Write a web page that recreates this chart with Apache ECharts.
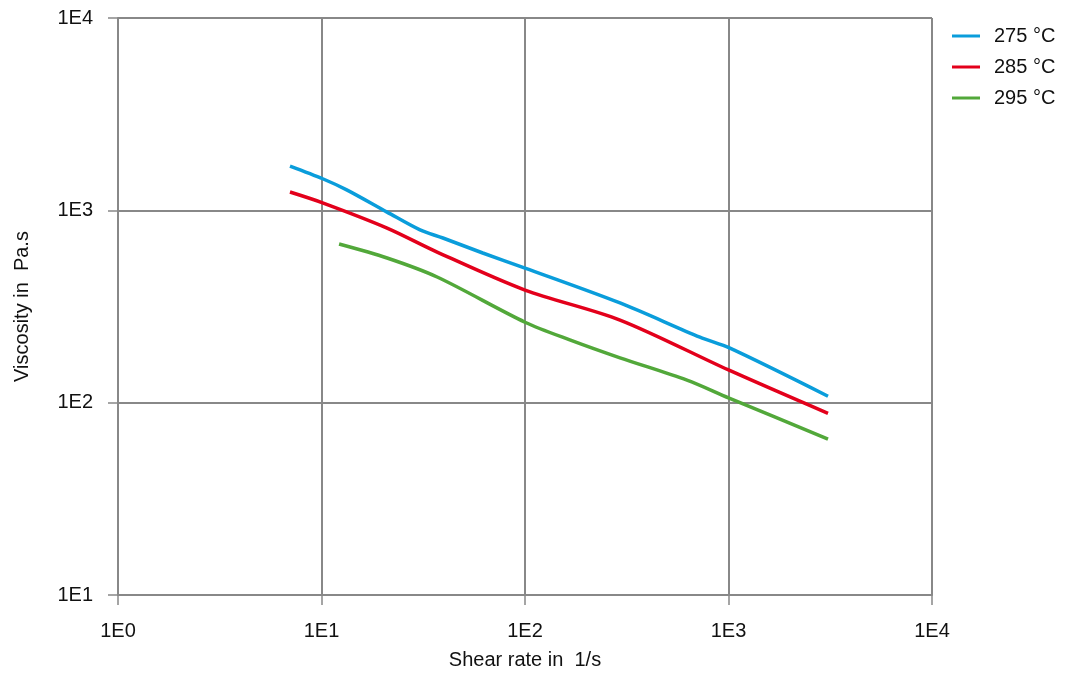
<!DOCTYPE html>
<html><head><meta charset="utf-8">
<script src="https://cdn.jsdelivr.net/npm/echarts@6/dist/echarts.min.js"></script>
<style>html,body{margin:0;padding:0;background:#fff}#c{width:1072px;height:675px}</style>
</head><body><div id="c"></div>
<script>
const seriesNames = ['275 °C', '285 °C', '295 °C'];
const shear275 = [7.0, 10.2, 13.3, 21, 30.5, 39.5, 62, 100, 293, 724, 1017, 3083];
const visc275  = [1698, 1455, 1277, 979, 791, 718, 600, 501, 330, 219, 192, 108];
const shear285 = [7.0, 10.2, 21, 37, 100, 293, 1000, 3083];
const visc285  = [1245, 1091, 809, 607, 385, 269, 148, 88];
const shear295 = [12.2, 21, 37, 100, 166, 293, 625, 1000, 3083];
const visc295  = [668, 565, 450, 262, 212, 171, 131, 106, 64.7];
const colors = ['#0a9ddb', '#e3001b', '#52a83a'];
const xTicks = [1, 10, 100, 1000, 10000];

const pair = (xs, ys) => xs.map((x, i) => [x, ys[i]]);
const fmt = v => '1E' + Math.round(Math.log10(v));
const font = 'Liberation Sans, Arial, sans-serif';

const chart = echarts.init(document.getElementById('c'));
chart.setOption({
  animation: false,
  textStyle: {fontFamily: font},
  grid: {left: 118, right: 140, top: 18, bottom: 80, containLabel: false},
  legend: {
    orient: 'vertical', left: 947, top: 21, itemGap: 11,
    itemWidth: 28, itemHeight: 3, icon: 'rect',
    textStyle: {fontSize: 20, color: '#111', fontFamily: font, padding: [0, 0, 0, 9]},
    data: seriesNames
  },
  xAxis: {
    type: 'log', logBase: 10, min: xTicks[0], max: xTicks[xTicks.length - 1],
    name: 'Shear rate in  1/s', nameLocation: 'middle', nameGap: 55,
    nameTextStyle: {fontSize: 20, color: '#111'},
    axisLine: {lineStyle: {color: '#888', width: 2}},
    axisTick: {show: true, length: 10, lineStyle: {color: '#888', width: 1.5}},
    axisLabel: {formatter: fmt, fontSize: 20, color: '#111', margin: 26},
    splitLine: {show: true, lineStyle: {color: '#888', width: 2}},
    minorTick: {show: false}
  },
  yAxis: {
    type: 'log', logBase: 10, min: 10, max: 10000,
    name: 'Viscosity in  Pa.s', nameLocation: 'middle', nameGap: 86,
    nameTextStyle: {fontSize: 20, color: '#111'},
    axisLine: {show: true, lineStyle: {color: '#888', width: 2}},
    axisTick: {show: true, length: 10, lineStyle: {color: '#888', width: 1.5}},
    axisLabel: {formatter: fmt, fontSize: 20, color: '#111', margin: 25},
    splitLine: {show: true, lineStyle: {color: '#888', width: 2}}
  },
  series: [
    {name: seriesNames[0], type: 'line', data: pair(shear275, visc275)},
    {name: seriesNames[1], type: 'line', data: pair(shear285, visc285)},
    {name: seriesNames[2], type: 'line', data: pair(shear295, visc295)}
  ].map((s, i) => Object.assign(s, {
    smooth: 0.3, showSymbol: false, symbol: 'none',
    color: colors[i], lineStyle: {width: 3.5, color: colors[i]}
  }))
});
</script></body></html>
